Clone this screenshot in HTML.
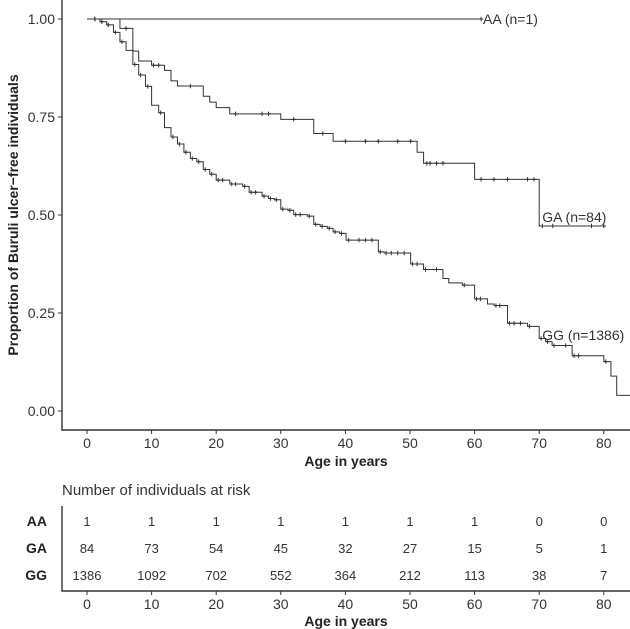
<!DOCTYPE html>
<html><head><meta charset="utf-8"><style>
html,body{margin:0;padding:0;background:#fff;}
svg{display:block;font-family:"Liberation Sans",Arial,sans-serif;}
</style></head><body>
<svg id="chart" width="630" height="629" viewBox="0 0 630 629" xmlns="http://www.w3.org/2000/svg"></svg>
<script>
// ---- data ----
const xTicks = [0,10,20,30,40,50,60,70,80];
const yTicks = [0,0.25,0.5,0.75,1];
const yTickLabels = ["0.00","0.25","0.50","0.75","1.00"];
const groups = ["AA","GA","GG"];
const groupLabels = ["AA (n=1)","GA (n=84)","GG (n=1386)"];
const aaTimes = [0];
const aaSurv = [1];
const aaEnd = 61;
const aaCensor = [61];
const gaTimes = [0,5.1,7.1,8.0,10.0,12.0,13.0,14.0,18.0,19.0,20.0,22.1,30.0,35.1,38.1,51.1,52.1,60.0,70.0];
const gaSurv  = [1,0.976,0.918,0.893,0.882,0.869,0.842,0.829,0.803,0.788,0.774,0.758,0.744,0.708,0.688,0.660,0.632,0.591,0.472];
const gaEnd = 80;
const gaCensor = [1.2,6.05,10.3,11.1,16.0,23.0,27.1,28.1,32.0,36.5,40.0,43.1,45.1,48.1,50.1,52.6,53.1,54.1,55.1,61,63.0,65.1,68.2,69.2,70.5,72.1,78.1,80.0];
const ggTimes = [0,2.0,3.05,4.1,5.1,6.05,7.1,8.0,9.05,10.0,11.1,12.0,13.0,14.0,15.0,16.0,17.0,18.0,19.0,20.0,22.1,24.1,25.1,27.1,28.1,29.0,30.0,31.1,32.0,34.1,35.1,36.1,37.2,38.1,39.1,40.1,45.1,46.0,50.1,52.1,55.1,56.0,58.1,60.0,62.0,63.0,65.1,68.2,70.0,71.0,72.0,75.1,80.0,81.1,82.0];
const ggSurv  = [1,0.993,0.985,0.966,0.942,0.920,0.884,0.857,0.828,0.780,0.761,0.723,0.699,0.681,0.660,0.644,0.636,0.616,0.604,0.589,0.579,0.573,0.558,0.548,0.542,0.539,0.515,0.512,0.501,0.497,0.476,0.471,0.466,0.457,0.453,0.436,0.406,0.403,0.375,0.361,0.338,0.327,0.321,0.286,0.273,0.269,0.224,0.216,0.185,0.177,0.167,0.141,0.126,0.089,0.040];
const ggEnd = 84.2;
const ggCensor = [1.24,2.3,3.3,4.4,5.4,7.4,8.3,9.4,11.4,13.3,14.3,15.3,16.3,17.3,18.3,19.3,20.3,21.0,22.4,23.0,24.4,25.4,26.1,27.4,28.4,29.3,30.3,31.4,32.3,33.0,34.4,35.4,36.4,37.5,38.4,39.4,40.5,42.1,43.1,44.1,45.4,46.3,47.1,48.1,49.1,50.4,51.1,52.4,54.1,58.4,60.3,60.9,63.3,63.9,65.4,66.1,67.1,68.5,70.3,71.3,72.3,74.1,75.4,76.1,80.3];
const riskAA = [1,1,1,1,1,1,1,0,0];
const riskGA = [84,73,54,45,32,27,15,5,1];
const riskGG = [1386,1092,702,552,364,212,113,38,7];

// ---- scales ----
const X0=87, XS=6.46, Y1=19, Y0=411;
const xs = t => X0 + t*XS;
const ys = s => Y0 - s*(Y0-Y1);
const svg = document.getElementById('chart');
const NS='http://www.w3.org/2000/svg';
function mk(tag, attrs, parent){const e=document.createElementNS(NS,tag);for(const k in attrs)e.setAttribute(k,attrs[k]);(parent||svg).appendChild(e);return e;}
function txt(str, attrs){const e=mk('text',attrs);e.textContent=str;return e;}
const C='#333';

// main axes
let e;
e=mk('line',{x1:62,y1:0,x2:62,y2:430,stroke:C,'stroke-width':1.4});


e=mk('line',{x1:61.3,y1:430,x2:630,y2:430,stroke:C,'stroke-width':1.4});


yTicks.forEach((v,i)=>{
  const y=ys(v);
  e=mk('line',{x1:58,y1:y,x2:62,y2:y,stroke:C,'stroke-width':1});
  
  
  e=txt(yTickLabels[i],{x:55,y:y+5,'text-anchor':'end','font-size':14,fill:'#333'});
  
  
});
xTicks.forEach(v=>{
  const x=xs(v);
  e=mk('line',{x1:x,y1:430,x2:x,y2:434,stroke:C,'stroke-width':1});
  
  
  e=txt(String(v),{x:x,y:448,'text-anchor':'middle','font-size':14,fill:'#333'});
  
  
});
e=txt('Age in years',{x:346,y:466,'text-anchor':'middle','font-size':14,'font-weight':'bold',fill:'#222'});


e=txt('Proportion of Buruli ulcer\u2212free individuals',{x:0,y:0,'text-anchor':'middle','font-size':14,'font-weight':'bold',fill:'#222',transform:'translate(18,215) rotate(-90)'});



function survAt(times,surv,t){let s=surv[0];for(let i=0;i<times.length;i++){if(times[i]<=t)s=surv[i];}return s;}
function drawCurve(name,times,surv,end,censor){
  let d='M'+xs(times[0])+','+ys(surv[0]);
  for(let i=1;i<times.length;i++){d+=' H'+xs(times[i])+' V'+ys(surv[i]);}
  d+=' H'+xs(end);
  const p=mk('path',{d:d,fill:'none',stroke:C,'stroke-width':1});
  
  
  censor.forEach(t=>{
    const x=xs(t), y=ys(survAt(times,surv,t));
    const c=mk('path',{d:`M${x-2.2},${y} H${x+2.2} M${x},${y-2.2} V${y+2.2}`,stroke:C,'stroke-width':1});
    
    
  });
}
drawCurve('aa',aaTimes,aaSurv,aaEnd,aaCensor);
drawCurve('ga',gaTimes,gaSurv,gaEnd,gaCensor);
drawCurve('gg',ggTimes,ggSurv,ggEnd,ggCensor);

e=txt(groupLabels[0],{x:xs(aaEnd)+2,y:ys(1)+5,'font-size':14,fill:'#333'});


e=txt(groupLabels[1],{x:xs(70)+3,y:222,'font-size':14,fill:'#333'});


e=txt(groupLabels[2],{x:xs(70)+3,y:340,'font-size':14,fill:'#333'});



// risk table
e=txt('Number of individuals at risk',{x:62,y:495,'font-size':15,fill:'#333'});


e=mk('line',{x1:62,y1:506,x2:62,y2:591,stroke:C,'stroke-width':1.4});


e=mk('line',{x1:61.3,y1:591,x2:630,y2:591,stroke:C,'stroke-width':1.4});


const rowY=[521,548,575];
const risks=[riskAA,riskGA,riskGG];
groups.forEach((g,r)=>{
  e=txt(g,{x:47,y:rowY[r]+5,'text-anchor':'end','font-size':14,'font-weight':'bold',fill:'#222'});
  
  
  risks[r].forEach((v,i)=>{
    e=txt(String(v),{x:xs(xTicks[i]),y:rowY[r]+5,'text-anchor':'middle','font-size':13,fill:'#333'});
    
    
  });
});
xTicks.forEach(v=>{
  const x=xs(v);
  e=mk('line',{x1:x,y1:591,x2:x,y2:595,stroke:C,'stroke-width':1});
  
  
  e=txt(String(v),{x:x,y:609,'text-anchor':'middle','font-size':14,fill:'#333'});
  
  
});
e=txt('Age in years',{x:346,y:626,'text-anchor':'middle','font-size':14,'font-weight':'bold',fill:'#222'});


</script>
</body></html>
